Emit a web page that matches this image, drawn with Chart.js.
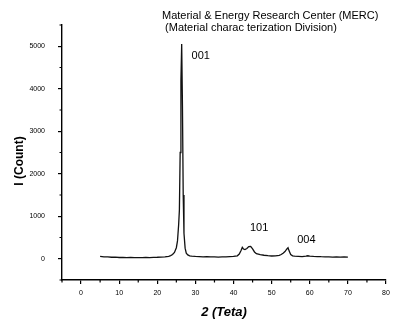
<!DOCTYPE html>
<html>
<head>
<meta charset="utf-8">
<script src="https://cdn.jsdelivr.net/npm/chart.js@4.4.1/dist/chart.umd.min.js"></script>
<style>
  html, body { margin: 0; padding: 0; background: #fff; }
  #wrap { width: 397px; height: 322px; }
</style>
</head>
<body>
<div id="wrap"><canvas id="xrd" width="397" height="322"></canvas></div>
<script>
// XRD pattern
const twoTheta = [5, 6, 7, 8, 9, 10, 11, 12, 13, 14, 15, 16, 17, 18, 19, 20, 21, 22, 23, 23.5,
  24, 24.5, 25, 25.3, 25.6, 25.8, 26.0, 26.2, 26.4, 26.6, 26.8, 27.0, 27.3, 27.6, 28, 28.5, 29,
  30, 31, 32, 33, 34, 35, 36, 37, 38, 39, 40, 41, 41.5, 42, 42.3, 42.6, 43, 43.5, 44, 44.5, 45,
  45.5, 46, 47, 48, 49, 50, 51, 52, 52.5, 53, 53.5, 54, 54.3, 54.6, 55, 55.5, 56, 57, 58, 59,
  59.5, 60, 61, 62, 63, 64, 65, 66, 67, 68, 69, 70];
const counts = [55, 45, 42, 35, 38, 30, 32, 25, 30, 26, 28, 25, 30, 28, 34, 35, 40, 42, 58, 75,
  100, 150, 260, 420, 800, 1150, 2500, 4200, 5050, 3600, 1500, 600, 250, 130, 90, 70, 60,
  55, 52, 45, 48, 44, 46, 40, 42, 45, 50, 55, 70, 110, 200, 270, 230, 215, 240, 285, 290, 230,
  160, 120, 95, 82, 72, 65, 66, 80, 100, 130, 170, 230, 260, 180, 100, 70, 60, 56, 52, 62,
  70, 64, 55, 52, 48, 46, 44, 40, 45, 40, 42, 38];

const xTicks = [0, 10, 20, 30, 40, 50, 60, 70, 80];
const xMinorTicks = [-5, 5, 15, 25, 35, 45, 55, 65, 75];
const yTicks = [0, 1000, 2000, 3000, 4000, 5000];
const yMinorTicks = [-500, 500, 1500, 2500, 3500, 4500, 5500];

const peakNames = ['001', '101', '004'];
const peakX = [29.0, 44.3, 56.7];
const peakY = [4760, 714, 452];

const titleLines = ['Material & Energy Research Center (MERC)', ' (Material charac terization Division)'];

const FONT = '"Liberation Sans", Arial, sans-serif';

const extras = {
  id: 'extras',
  afterDraw(chart) {
    const ctx = chart.ctx;
    const x = chart.scales.x, y = chart.scales.y;
    ctx.save();
    ctx.strokeStyle = '#000';
    ctx.lineWidth = 1.2;
    // minor ticks
    ctx.beginPath();
    xMinorTicks.forEach(v => {
      const px = x.getPixelForValue(v);
      ctx.moveTo(px, y.bottom);
      ctx.lineTo(px, y.bottom + 2.5);
    });
    yMinorTicks.forEach(v => {
      const py = y.getPixelForValue(v);
      ctx.moveTo(x.left, py);
      ctx.lineTo(x.left - 2.5, py);
    });
    ctx.stroke();

    ctx.fillStyle = '#000';
    // header
    ctx.font = '11px ' + FONT;
    ctx.textAlign = 'left';
    ctx.textBaseline = 'alphabetic';
    ctx.fillText(titleLines[0], 162, 18.5);
    ctx.fillText(titleLines[1], 162, 30.5);

    // peak labels
    ctx.font = '11px ' + FONT;
    ctx.textBaseline = 'middle';
    peakNames.forEach((n, i) => {
      ctx.fillText(n, x.getPixelForValue(peakX[i]), y.getPixelForValue(peakY[i]));
    });

    // y axis title
    ctx.font = 'bold 12px ' + FONT;
    ctx.translate(20, 161);
    ctx.rotate(-Math.PI / 2);
    ctx.textAlign = 'center';
    ctx.fillText('I (Count)', 0, 0);
    ctx.restore();
  }
};

const gridOpts = {
  display: true,
  drawOnChartArea: false,
  drawTicks: true,
  tickLength: 4,
  color: '#000',
  lineWidth: 1.2,
  tickColor: '#000',
  tickWidth: 1.2
};

new Chart(document.getElementById('xrd'), {
  type: 'line',
  data: {
    datasets: [{
      data: twoTheta.map((t, i) => ({ x: t, y: counts[i] })),
      borderColor: '#111',
      borderWidth: 1.3,
      pointRadius: 0,
      tension: 0,
      fill: false
    }]
  },
  options: {
    responsive: false,
    animation: false,
    devicePixelRatio: 1,
    layout: { padding: { top: 25, right: 11, left: 0, bottom: 0 } },
    plugins: {
      legend: { display: false },
      tooltip: { enabled: false }
    },
    scales: {
      x: {
        type: 'linear',
        min: -5,
        max: 80,
        afterBuildTicks: s => { s.ticks = xTicks.map(v => ({ value: v })); },
        afterFit: s => { s.height = 42; },
        grid: gridOpts,
        border: { display: true, color: '#000', width: 1.4 },
        ticks: { color: '#000', font: { family: FONT, size: 7 }, padding: 5, maxRotation: 0,
          callback: v => String(v) },
        title: {
          display: true,
          text: '2 (Teta)',
          color: '#000',
          font: { family: FONT, size: 13, weight: 'bold', style: 'italic' },
          padding: { top: 0, bottom: 2 }
        }
      },
      y: {
        type: 'linear',
        min: -500,
        max: 5500,
        afterBuildTicks: s => { s.ticks = yTicks.map(v => ({ value: v })); },
        afterFit: s => { s.width = 62; },
        grid: gridOpts,
        border: { display: true, color: '#000', width: 1.4 },
        ticks: { color: '#000', font: { family: FONT, size: 7 }, padding: 13,
          callback: v => String(v) }
      }
    }
  },
  plugins: [extras]
});
</script>
</body>
</html>
